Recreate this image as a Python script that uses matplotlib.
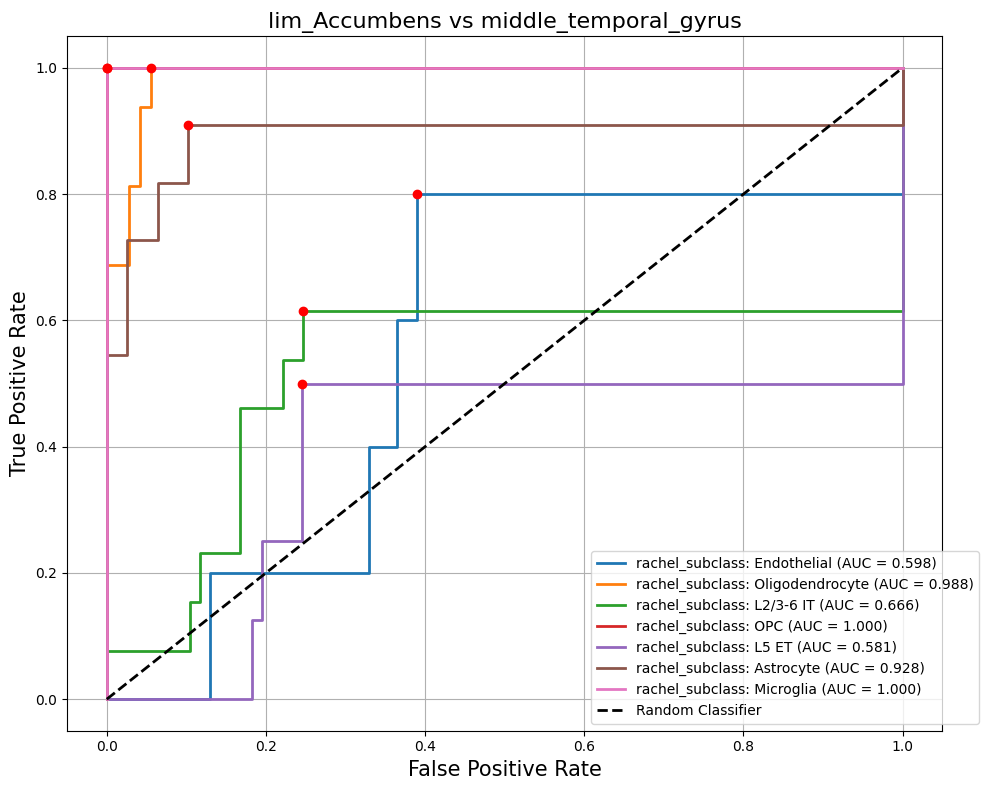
import matplotlib
matplotlib.use("Agg")
import matplotlib.pyplot as plt

names = ["Endothelial", "Oligodendrocyte", "L2/3-6 IT", "OPC", "L5 ET", "Astrocyte", "Microglia"]
aucs = [0.598, 0.988, 0.666, 1.000, 0.581, 0.928, 1.000]
colors = ["#1f77b4", "#ff7f0e", "#2ca02c", "#d62728", "#9467bd", "#8c564b", "#e377c2"]

fpr = [
    [0, 0.13, 0.13, 0.33, 0.33, 0.365, 0.365, 0.39, 0.39, 1, 1],
    [0, 0, 0.028, 0.028, 0.042, 0.042, 0.056, 0.056, 1],
    [0, 0, 0.105, 0.105, 0.117, 0.117, 0.168, 0.168, 0.222, 0.222, 0.247, 0.247, 1, 1],
    [0, 0, 1],
    [0, 0.183, 0.183, 0.195, 0.195, 0.245, 0.245, 1, 1],
    [0, 0, 0.025, 0.025, 0.064, 0.064, 0.102, 0.102, 1, 1],
    [0, 0, 1],
]
tpr = [
    [0, 0, 0.2, 0.2, 0.4, 0.4, 0.6, 0.6, 0.8, 0.8, 1],
    [0, 0.6875, 0.6875, 0.8125, 0.8125, 0.9375, 0.9375, 1, 1],
    [0, 0.077, 0.077, 0.154, 0.154, 0.231, 0.231, 0.462, 0.462, 0.538, 0.538, 0.615, 0.615, 1],
    [0, 1, 1],
    [0, 0, 0.125, 0.125, 0.25, 0.25, 0.5, 0.5, 1],
    [0, 0.545, 0.545, 0.727, 0.727, 0.818, 0.818, 0.909, 0.909, 1],
    [0, 1, 1],
]
# optimal threshold points
opt_x = [0.39, 0.056, 0.247, 0.0, 0.245, 0.102, 0.0]
opt_y = [0.8, 1.0, 0.615, 1.0, 0.5, 0.909, 1.0]

fig, ax = plt.subplots(figsize=(9.94, 7.9), dpi=100)
for i in range(len(names)):
    ax.plot(fpr[i], tpr[i], color=colors[i], lw=2,
            label="rachel_subclass: %s (AUC = %.3f)" % (names[i], aucs[i]))
    ax.scatter([opt_x[i]], [opt_y[i]], color="red", s=36, zorder=5)
ax.plot([0, 1], [0, 1], "k--", lw=2, label="Random Classifier")
ax.set_xlim(-0.05, 1.05)
ax.set_ylim(-0.05, 1.05)
ax.set_xlabel("False Positive Rate", fontsize=15)
ax.set_ylabel("True Positive Rate", fontsize=15)
ax.set_title("lim_Accumbens vs middle_temporal_gyrus", fontsize=16)
ax.grid(True)
ax.legend(loc="lower right", bbox_to_anchor=(1.05, 0))
fig.subplots_adjust(left=0.0674, right=0.948, bottom=0.075, top=0.954)
fig.savefig("out.png")
